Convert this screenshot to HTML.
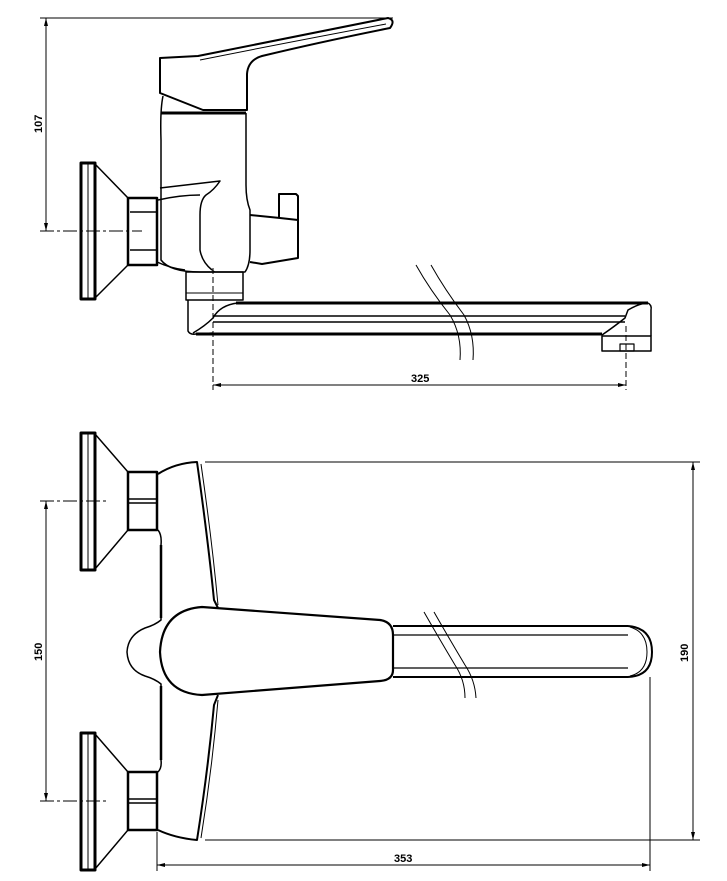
<!DOCTYPE html>
<html><head><meta charset="utf-8"><style>
html,body{margin:0;padding:0;background:#fff;}
svg{display:block;}
text{font-family:"Liberation Sans",sans-serif;font-size:11px;font-weight:bold;fill:#000;}
</style></head><body>
<svg width="727" height="881" viewBox="0 0 727 881" xmlns="http://www.w3.org/2000/svg" fill="none" stroke="#000" stroke-linejoin="round">
<!-- ============ TOP VIEW ============ -->
<!-- dimension 107 -->
<line x1="40" y1="18" x2="393" y2="18" stroke-width="1"/>
<line x1="46" y1="18" x2="46" y2="231" stroke-width="1"/>
<path d="M46 18 l-2 8 h4z M46 231 l-2 -8 h4z" fill="#000" stroke="none"/>
<text x="0" y="0" transform="translate(42 133) rotate(-90)" stroke="none">107</text>
<!-- centerline -->
<line x1="40" y1="231" x2="142" y2="231" stroke-width="1" stroke-dasharray="14 3 3 3"/>
<!-- flange -->
<rect x="81" y="163" width="14" height="136" stroke-width="3"/>
<line x1="88" y1="164" x2="88" y2="298" stroke-width="1"/>
<path d="M95 164 L128 198 M95 298 L128 265" stroke-width="1.5"/>
<!-- nut -->
<rect x="128" y="198" width="29" height="67" stroke-width="2.5"/>
<line x1="130" y1="212" x2="156" y2="212" stroke-width="1.5"/>
<line x1="130" y1="250" x2="156" y2="250" stroke-width="1.5"/>
<!-- lever handle -->
<path d="M160 58 L198 56 Q300 36 388 18 Q396 20 390 28 Q320 42 262 56 Q248 60 247 74 L247 110 L203 110 L160 93 Z" stroke-width="2"/>
<path d="M200 60 Q300 40 386 24" stroke-width="1"/>
<!-- body -->
<line x1="161" y1="113" x2="246" y2="113" stroke-width="3"/>
<path d="M163 96 Q160 110 161 140 L161 260 Q170 272 200 272 L245 272 Q250 265 250 250 L250 210 Q246 200 246 185 L246 113" stroke-width="1.5"/>
<!-- side inlet shape -->
<path d="M160 188 L220 181 Q214 190 206 195 Q200 200 200 215 L200 250 Q202 262 212 270 M158 200 Q180 195 200 195" stroke-width="1.5"/>
<path d="M157 262 Q170 268 185 270" stroke-width="1.5"/>
<path d="M212 270 L215 272" stroke-width="1"/>
<!-- right knob -->
<path d="M250 215 L280 218 L298 220 L298 258 L262 264 L250 262" stroke-width="2"/>
<path d="M279 218 L279 194 L296 194 L298 196 L298 220" stroke-width="2"/>
<!-- lower connector -->
<path d="M186 272 L243 272 L243 300 L186 300 Z" stroke-width="1.5"/>
<line x1="186" y1="293" x2="243" y2="293" stroke-width="1"/>
<path d="M188 300 L188 331 Q190 335 196 334 L213 333" stroke-width="1.5"/>
<path d="M193 333 Q205 326 213 318 Q220 305 238 303" stroke-width="1.5"/>
<!-- spout -->
<line x1="236" y1="303" x2="648" y2="303" stroke-width="3"/>
<line x1="213" y1="316" x2="625" y2="316" stroke-width="1.5"/>
<line x1="213" y1="322" x2="625" y2="322" stroke-width="1.5"/>
<line x1="196" y1="334" x2="602" y2="334" stroke-width="3"/>
<path d="M648 303 Q652 305 651 310 L651 336" stroke-width="1.5"/>
<path d="M602 335 Q615 326 625 318 L628 310 Q640 303 648 303" stroke-width="1.5"/>
<rect x="602" y="336" width="49" height="15" stroke-width="1.5"/>
<rect x="620" y="344" width="14" height="7" stroke-width="1.2"/>
<!-- break marks -->
<path d="M416 265 Q430 290 450 315 Q462 335 460 360" stroke-width="1"/>
<path d="M431 265 Q445 290 464 315 Q475 335 473 360" stroke-width="1"/>
<!-- dimension 325 -->
<line x1="213" y1="268" x2="213" y2="390" stroke-width="1" stroke-dasharray="6 3"/>
<line x1="626" y1="326" x2="626" y2="390" stroke-width="1" stroke-dasharray="6 3"/>
<line x1="213" y1="385" x2="626" y2="385" stroke-width="1"/>
<path d="M213 385 l8 -2 v4z M626 385 l-8 -2 v4z" fill="#000" stroke="none"/>
<text x="411" y="382" stroke="none">325</text>

<!-- ============ BOTTOM VIEW ============ -->
<!-- flanges -->
<g id="fl">
<rect x="81" y="433" width="14" height="137" stroke-width="3"/>
<line x1="88" y1="434" x2="88" y2="569" stroke-width="1"/>
<path d="M95 434 L128 472 M95 569 L128 530" stroke-width="1.5"/>
<rect x="128" y="472" width="29" height="58" stroke-width="2.5"/>
<line x1="129" y1="499" x2="156" y2="499" stroke-width="1.5"/>
<line x1="129" y1="503" x2="156" y2="503" stroke-width="1.5"/>
</g>
<use href="#fl" transform="translate(0 300)"/>
<!-- centerlines & dim 150 -->
<line x1="40" y1="501" x2="108" y2="501" stroke-width="1" stroke-dasharray="14 3 3 3"/>
<line x1="40" y1="801" x2="108" y2="801" stroke-width="1" stroke-dasharray="14 3 3 3"/>
<line x1="46" y1="501" x2="46" y2="801" stroke-width="1"/>
<path d="M46 501 l-2 8 h4z M46 801 l-2 -8 h4z" fill="#000" stroke="none"/>
<text x="0" y="0" transform="translate(42 661) rotate(-90)" stroke="none">150</text>
<!-- body -->
<path d="M158 474 Q175 463 197 462 Q208 540 214 600 L218 608" stroke-width="2"/>
<path d="M201 464 Q212 540 218 605" stroke-width="1"/>
<path d="M158 530 Q162 535 161 545 L161 620 Q155 625 145 628 Q128 635 127 652 Q128 670 145 676 Q155 679 161 684 L161 760 Q162 768 158 772" stroke-width="1.5"/>
<line x1="161" y1="545" x2="161" y2="618" stroke-width="2.5"/>
<line x1="161" y1="686" x2="161" y2="760" stroke-width="2.5"/>
<path d="M158 830 Q175 838 197 840 Q208 770 214 705 L218 695" stroke-width="2"/>
<path d="M201 838 Q212 770 218 700" stroke-width="1"/>
<!-- handle -->
<path d="M202 607 L380 620 Q393 622 393 635 L393 670 Q393 680 380 681 L202 695 Q162 693 160 652 Q162 610 202 607 Z" stroke-width="2.2"/>
<!-- spout -->
<line x1="393" y1="626" x2="628" y2="626" stroke-width="2"/>
<line x1="393" y1="635" x2="628" y2="635" stroke-width="1.2"/>
<line x1="393" y1="668" x2="628" y2="668" stroke-width="1.2"/>
<line x1="393" y1="677" x2="628" y2="677" stroke-width="2"/>
<path d="M628 626 Q652 628 652 652 Q652 676 628 677" stroke-width="2"/>
<path d="M630 627 Q647 632 647 652 Q647 672 630 676" stroke-width="1"/>
<!-- break marks -->
<path d="M424 612 Q440 640 455 665 Q465 680 465 698" stroke-width="1"/>
<path d="M434 612 Q450 640 465 665 Q475 680 476 698" stroke-width="1"/>
<!-- dimension 190 -->
<line x1="205" y1="462" x2="700" y2="462" stroke-width="1"/>
<line x1="205" y1="840" x2="700" y2="840" stroke-width="1"/>
<line x1="693" y1="462" x2="693" y2="840" stroke-width="1"/>
<path d="M693 462 l-2 8 h4z M693 840 l-2 -8 h4z" fill="#000" stroke="none"/>
<text x="0" y="0" transform="translate(688 662) rotate(-90)" stroke="none">190</text>
<!-- dimension 353 -->
<line x1="157" y1="832" x2="157" y2="871" stroke-width="1"/>
<line x1="650" y1="677" x2="650" y2="871" stroke-width="1"/>
<line x1="157" y1="865" x2="650" y2="865" stroke-width="1"/>
<path d="M157 865 l8 -2 v4z M650 865 l-8 -2 v4z" fill="#000" stroke="none"/>
<text x="394" y="862" stroke="none">353</text>
</svg>
</body></html>
